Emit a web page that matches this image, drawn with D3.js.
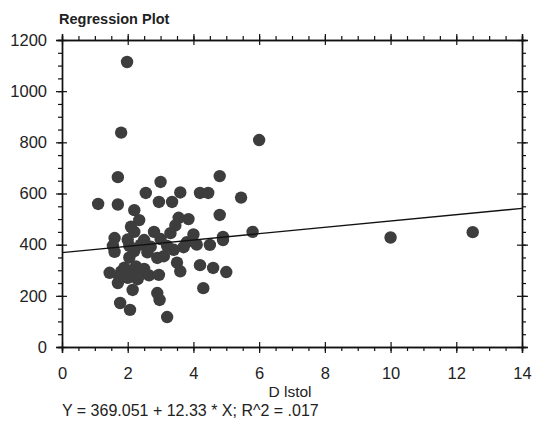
<!DOCTYPE html>
<html><head><meta charset="utf-8">
<script src="https://cdn.jsdelivr.net/npm/d3@7"></script>
<style>body{margin:0;background:#fff}svg{display:block}text{font-family:"Liberation Sans",Arial,sans-serif;fill:#222}</style>
</head><body>
<script>
const title = "Regression Plot";
const xLabel = "D lstol";
const equation = "Y = 369.051 + 12.33 * X; R^2 = .017";
const intercept = 369.051, slope = 12.33;
const xTicks = [0,2,4,6,8,10,12,14];
const yTicks = [0,200,400,600,800,1000,1200];
const xs = [1.98,1.80,6.00,1.70,4.80,3.00,2.55,3.60,4.20,4.45,5.45,1.10,1.70,2.95,3.35,2.20,4.80,3.55,2.35,3.45,2.10,2.20,2.80,3.30,4.90,5.80,1.60,2.00,2.50,3.00,3.80,4.50,1.55,1.60,2.05,2.40,2.70,3.20,3.70,4.10,4.90,2.20,2.60,2.05,2.90,3.10,3.50,3.60,4.20,4.60,5.00,1.45,1.80,2.10,2.40,1.75,2.00,2.30,2.65,2.95,1.90,2.25,2.50,3.40,1.70,2.15,2.90,2.97,1.77,2.07,3.20,4.30,10.0,12.5,4.00,3.85];
const ys = [1114,838,809,664,668,645,602,604,602,602,584,559,557,567,567,535,516,505,496,475,470,450,450,445,430,450,426,420,418,422,410,399,395,372,395,400,392,395,390,400,418,375,370,350,348,355,330,296,320,309,293,290,295,290,285,272,270,265,280,282,310,315,305,380,250,223,211,184,172,145,117,230,428,449,440,500];

const W=534,H=426;
const svg=d3.select("body").append("svg").attr("width",W).attr("height",H);
const x=d3.scaleLinear().domain([0,14]).range([62,522]);
const y=d3.scaleLinear().domain([0,1200]).range([347,40]);
const g=svg.append("g");

// points
g.selectAll("circle").data(xs.map((d,i)=>[d,ys[i]])).join("circle")
 .attr("cx",d=>x(d[0])).attr("cy",d=>y(d[1])).attr("r",6.2).attr("fill","#3d3d3d");

// regression line
g.append("line").attr("x1",x(0)).attr("y1",y(intercept)).attr("x2",x(14)).attr("y2",y(intercept+slope*14))
 .attr("stroke","#111").attr("stroke-width",1.4);

const minorX=d3.range(0,14.001,0.5), minorY=d3.range(0,1200.1,50);
function axisStyle(sel){sel.select(".domain").attr("stroke","#111").attr("stroke-width",1.4);
 sel.selectAll(".tick line").attr("stroke","#111").attr("stroke-width",1.2);
 sel.selectAll("text").style("font-size","16.5px").attr("fill","#222");}
// minor ticks
svg.append("g").attr("transform",`translate(0,347)`).call(d3.axisBottom(x).tickValues(minorX).tickSize(4).tickFormat("")).call(axisStyle);
svg.append("g").attr("transform",`translate(0,40)`).call(d3.axisTop(x).tickValues(minorX).tickSize(4).tickFormat("")).call(axisStyle);
svg.append("g").attr("transform",`translate(62,0)`).call(d3.axisLeft(y).tickValues(minorY).tickSize(4).tickFormat("")).call(axisStyle);
svg.append("g").attr("transform",`translate(522,0)`).call(d3.axisRight(y).tickValues(minorY).tickSize(4).tickFormat("")).call(axisStyle);
// major ticks (crossing)
const bx=svg.append("g").attr("transform",`translate(0,347)`).call(d3.axisBottom(x).tickValues(xTicks).tickSize(6).tickPadding(14).tickFormat(d3.format("d"))).call(axisStyle);
bx.selectAll(".tick line").attr("y1",-5);
const ty=svg.append("g").attr("transform",`translate(0,40)`).call(d3.axisTop(x).tickValues(xTicks).tickSize(6).tickFormat("")).call(axisStyle);
ty.selectAll(".tick line").attr("y1",5);
const ly=svg.append("g").attr("transform",`translate(62,0)`).call(d3.axisLeft(y).tickValues(yTicks).tickSize(6).tickPadding(9).tickFormat(d3.format("d"))).call(axisStyle);
ly.selectAll(".tick line").attr("x1",5);
const ry=svg.append("g").attr("transform",`translate(522,0)`).call(d3.axisRight(y).tickValues(yTicks).tickSize(6).tickFormat("")).call(axisStyle);
ry.selectAll(".tick line").attr("x1",-5);

svg.append("text").attr("x",59).attr("y",24).attr("font-weight","bold").style("font-size","14.5px").text(title);
svg.append("text").attr("x",290).attr("y",397).attr("text-anchor","middle").style("font-size","15.5px").text(xLabel);
svg.append("text").attr("x",62).attr("y",416).style("font-size","16px").text(equation);
</script>
</body></html>
